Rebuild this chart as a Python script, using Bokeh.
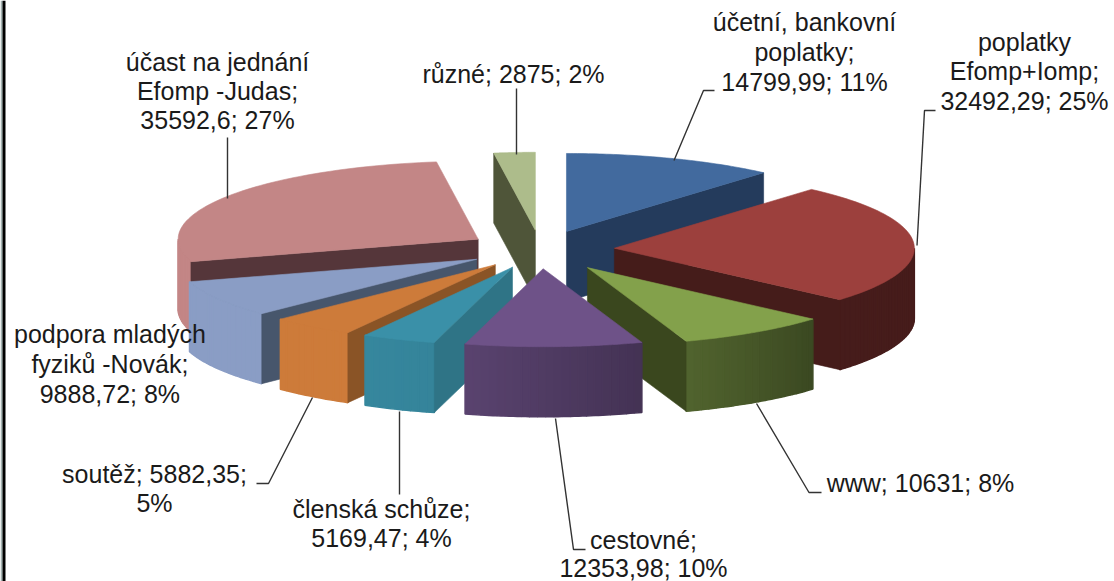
import numpy as np
from bokeh.plotting import figure
from bokeh.models import ColumnDataSource
from bokeh.core.properties import value
from bokeh.embed import file_html
from bokeh.resources import INLINE

# ---- data, in drawing order of the pie (clockwise from 12 o'clock)
categories = ["účetní, bankovní poplatky", "poplatky Efomp+Iomp", "www", "cestovné",
              "členská schůze", "soutěž", "podpora mladých fyziků -Novák",
              "účast na jednání Efomp -Judas", "různé"]
amounts = [14799.99, 32492.29, 10631, 12353.98, 5169.47, 5882.35, 9888.72, 35592.6, 2875]
amount_labels = ["14799,99", "32492,29", "10631", "12353,98", "5169,47", "5882,35", "9888,72", "35592,6", "2875"]
percents = [11, 25, 8, 10, 4, 5, 8, 27, 2]

label_lines = [
    ["účetní, bankovní", "poplatky;", "14799,99; 11%"],
    ["poplatky", "Efomp+Iomp;", "32492,29; 25%"],
    ["www; 10631; 8%"],
    ["cestovné;", "12353,98; 10%"],
    ["členská schůze;", "5169,47; 4%"],
    ["soutěž; 5882,35;", "5%"],
    ["podpora mladých", "fyziků -Novák;", "9888,72; 8%"],
    ["účast na jednání", "Efomp -Judas;", "35592,6; 27%"],
    ["různé; 2875; 2%"],
]

# ---- styling and layout (image pixels)
top_colors = ["#426A9E", "#9C403D", "#83A14B", "#6E5288", "#3A90A8", "#CD7B3A", "#8A9DC5", "#C38686", "#ADBC8B"]
cut_colors = ["#243B5C", "#451C1A", "#3A471E", "#4B3860", "#2F7486", "#8A5426", "#47566C", "#55363A", "#4F5539"]
wall_shades = [(1, 1), (0.45, 0.45), (0.45, 0.62), (0.62, 0.82), (0.92, 0.94), (1, 1), (1, 1), (1, 1), (1, 1)]
explode = [0.2467, 0.2467, 0.28, 0.2467, 0.2467, 0.2467, 0.2467, 0.2467, 0.2467]
paint_order = [0, 8, 7, 6, 5, 4, 1, 2, 3]
label_x = [804, 1024, 920, 643, 381, 154, 109.4, 217, 513]
label_y = [[21, 51, 81], [41, 70, 100], [482], [539, 567], [508, 537], [473, 502], [333, 363, 393], [61, 90, 119], [73]]
leaders = [
    ([714, 703, 673.5], [90, 90, 160]),
    ([935, 924, 916.5], [110, 110, 245]),
    ([821, 808.5, 756], [492, 492, 403]),
    ([585, 573, 555], [549, 549, 418]),
    ([399, 399], [411, 494]),
    ([256, 268, 312], [483, 483, 397]),
    ([227, 227], [137, 198]),
    ([516, 516], [88, 154]),
]
CX, CY, RX, RY, DEPTH = 540.0, 249.0, 300.0, 78.0, 70.0
W, H = 1114, 581


def darken(hex_color, f):
    r, g, b = (int(hex_color[i:i + 2], 16) for i in (1, 3, 5))
    return "#%02x%02x%02x" % (int(r * f), int(g * f), int(b * f))


def px(theta):
    return RX * np.sin(np.radians(theta))


def py(theta):
    return -RY * np.cos(np.radians(theta))


p = figure(width=W, height=H, x_range=(0, W), y_range=(H, 0), output_backend="svg",
           toolbar_location=None, min_border=0, margin=(0, 0, 0, 0),
           background_fill_color="white", border_fill_color="white", outline_line_color=None)
p.axis.visible = False
p.grid.visible = False

# page frame on the left
p.quad(left=[0], right=[2], top=[0], bottom=[H], fill_color="#a3b4b2", line_color=None)
p.quad(left=[2], right=[5], top=[0], bottom=[H], fill_color="#000000", line_color=None)

total = sum(amounts)
edges = np.concatenate([[0.0], np.cumsum(amounts)]) / total * 360.0


def face(xs, ys, color, lw=0.6):
    p.patch(list(xs), list(ys), fill_color=color, line_color=color, line_width=lw)


for i in paint_order:
    a0, a1 = edges[i], edges[i + 1]
    mid = (a0 + a1) / 2
    ax = CX + explode[i] * px(mid)
    ay = CY + explode[i] * py(mid)

    def cut(theta):
        x1, y1 = ax + px(theta), ay + py(theta)
        face([ax, x1, x1, ax], [ay, y1, y1 + DEPTH, ay + DEPTH], cut_colors[i])

    # rim, then only the cut faces turned to the viewer, then the top
    w0, w1 = max(a0, 90.0), min(a1, 270.0)
    if w1 > w0:
        steps = np.linspace(w0, w1, max(int((w1 - w0) / 1.5), 2) + 1)
        for s0, s1 in zip(steps[:-1], steps[1:]):
            t = ((s0 + s1) / 2 - w0) / (w1 - w0)
            f = wall_shades[i][0] + t * (wall_shades[i][1] - wall_shades[i][0])
            th = np.linspace(s0, s1, 3)
            xs = ax + px(th)
            ys = ay + py(th)
            face(np.concatenate([xs, xs[::-1]]), np.concatenate([ys, ys[::-1] + DEPTH]),
                 darken(top_colors[i], f), lw=1.5)
    if np.sin(np.radians(a0)) < -1e-6:
        cut(a0)
    if np.sin(np.radians(a1)) > 1e-6:
        cut(a1)
    th = np.linspace(a0, a1, 60)
    face(np.concatenate([[ax], ax + px(th)]), np.concatenate([[ay], ay + py(th)]), top_colors[i])

for xs, ys in leaders:
    p.line(xs, ys, line_color="#333333", line_width=1.4)

tx, ty, tt = [], [], []
for lines, x, ys in zip(label_lines, label_x, label_y):
    for line, y in zip(lines, ys):
        tx.append(x)
        ty.append(y)
        tt.append(line)
p.text(x="x", y="y", text="t", source=ColumnDataSource(dict(x=tx, y=ty, t=tt)),
       text_font=value("Liberation Sans"), text_font_size="25px", text_color="#1a1a1a",
       text_align="center", text_baseline="middle")

open("out.html", "w").write(file_html(p, INLINE))
